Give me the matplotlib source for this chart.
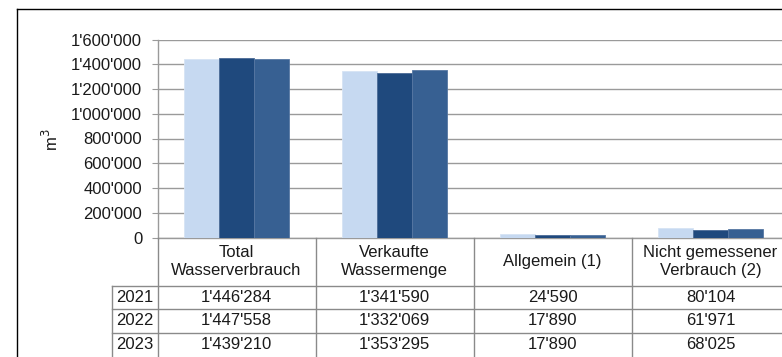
import numpy as np
import matplotlib.pyplot as plt
from matplotlib.lines import Line2D

plt.rcParams['font.family'] = ['Liberation Sans', 'DejaVu Sans']

categories = ['Total\nWasserverbrauch', 'Verkaufte\nWassermenge', 'Allgemein (1)',
              'Nicht gemessener\nVerbrauch (2)']
years = ['2021', '2022', '2023']
v2021 = [1446284, 1341590, 24590, 80104]
v2022 = [1447558, 1332069, 17890, 61971]
v2023 = [1439210, 1353295, 17890, 68025]
yticks = np.arange(0, 1600001, 200000)

series = [v2021, v2022, v2023]
colors = ['#c6d9f1', '#1f497d', '#376092']
edges = ['#d6e3f4', '#4a6a96', '#5677a2']
text_col = '#1a1a1a'
grid_col = '#9a9a9a'
line_col = '#8a8a8a'
fs = 12


def swiss(v):
    return f"{v:,}".replace(",", "'")


W, H = 782, 357
fig = plt.figure(figsize=(W / 100, H / 100), dpi=100)

# plot area in pixels: left edge, category width, top/bottom of value range
x0, cw = 157.5, 158.0
y_top, y_zero = 39.5, 237.5
ax = fig.add_axes([x0 / W, (H - y_zero) / H, 4 * cw / W, (y_zero - y_top) / H])

ind = np.arange(len(categories))
bw = 35 / cw
for i, vals in enumerate(series):
    ax.bar(ind + (i - 1) * bw, vals, bw, color=colors[i], edgecolor=edges[i],
           linewidth=0.6, zorder=3)

ax.set_xlim(-0.5, len(categories) - 0.5)
ax.set_ylim(0, 1600000)
ax.set_yticks(yticks)
ax.set_yticklabels([swiss(t) for t in yticks], fontsize=fs, color=text_col)
ax.set_xticks([])
ax.yaxis.grid(True, color=grid_col, linewidth=1.0, zorder=0)
ax.tick_params(axis='y', length=4, width=0.8, color=grid_col, pad=7)
for s in ['top', 'right']:
    ax.spines[s].set_visible(False)
ax.spines['left'].set_color(grid_col)
ax.spines['bottom'].set_color(grid_col)
ax.spines['left'].set_linewidth(1.0)
ax.spines['bottom'].set_linewidth(1.0)

fig.text(51 / W, 1 - 140 / H, 'm$^3$', rotation=90, ha='center', va='center',
         fontsize=fs, color=text_col)

# data table under the axis, y measured in pixels downward from the zero line
tab = fig.add_axes([x0 / W, 0, 4 * cw / W, (H - y_zero) / H])
tab.set_xlim(-0.5, len(categories) - 0.5)
tab.set_ylim(H - y_zero, 0)
tab.axis('off')

head_h, row_h = 48.5, 23.3
year_left = -0.5 - (x0 - 111.7) / cw
bottom = H - y_zero + 5

kw = dict(color=line_col, linewidth=1.0, clip_on=False)
for b in np.arange(len(categories) + 1) - 0.5:
    tab.add_line(Line2D([b, b], [0, bottom], **kw))
tab.add_line(Line2D([year_left, year_left], [head_h, bottom], **kw))
for r in range(len(years)):
    y = head_h + r * row_h
    tab.add_line(Line2D([year_left, len(categories)], [y, y], **kw))

for c, name in enumerate(categories):
    tab.text(c, head_h / 2, name, ha='center', va='center', fontsize=fs,
             color=text_col, linespacing=1.25, clip_on=False)
for r, (yr, vals) in enumerate(zip(years, series)):
    yc = head_h + (r + 0.5) * row_h
    tab.text((year_left - 0.5) / 2, yc, yr, ha='center', va='center',
             fontsize=fs, color=text_col, clip_on=False)
    for c, v in enumerate(vals):
        tab.text(c, yc, swiss(v), ha='center', va='center', fontsize=fs,
                 color=text_col, clip_on=False)

# outer chart frame
fig.add_artist(Line2D([17 / W, 1.0], [1 - 9 / H, 1 - 9 / H], color='black',
                      linewidth=1.0, transform=fig.transFigure))
fig.add_artist(Line2D([17 / W, 17 / W], [0, 1 - 9 / H], color='black',
                      linewidth=1.0, transform=fig.transFigure))

fig.savefig('out.png', dpi=100)
